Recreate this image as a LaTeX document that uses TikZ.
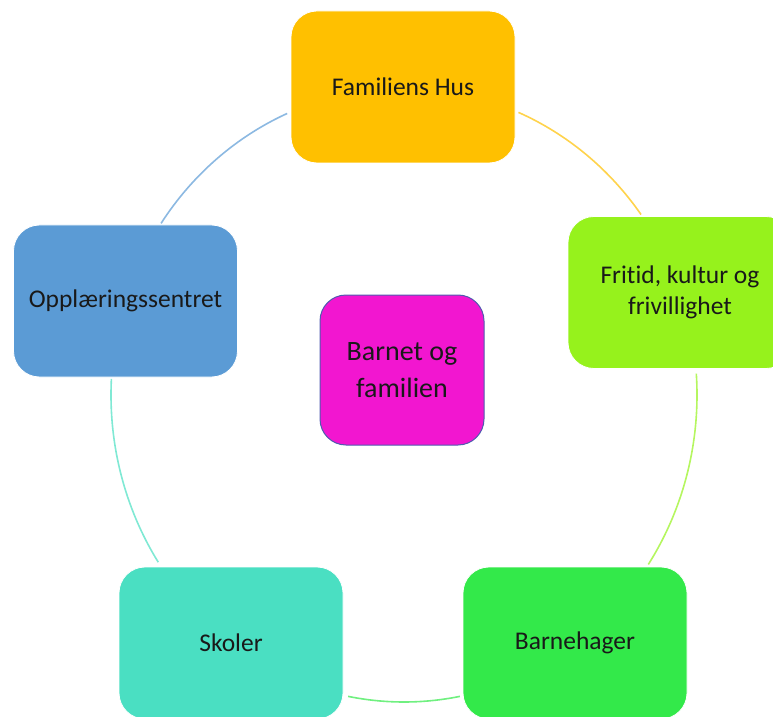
\documentclass[tikz,border=0pt]{standalone}
\usepackage{fontspec}
\setmainfont{Carlito}[Ligatures=NoCommon]
\definecolor{famC}{RGB}{255,192,0}
\definecolor{friC}{RGB}{150,242,28}
\definecolor{barhC}{RGB}{51,233,74}
\definecolor{skoC}{RGB}{74,223,194}
\definecolor{oppC}{RGB}{91,155,213}
\definecolor{barnC}{RGB}{242,22,208}
\definecolor{barnLine}{RGB}{80,90,175}
\begin{document}
\begin{tikzpicture}[x=1pt, y=1pt,
        box/.style={rectangle, rounded corners=26pt, draw=white, line width=0.8pt,
            minimum width=224pt, minimum height=152pt, align=center,
            text=black!90, font=\fontsize{25.5}{31}\selectfont},
        ring/.style={line width=1.6pt, draw opacity=0.7}]
        \clip (0, 0) rectangle (773, 716);
        \coordinate (mid) at (404, 321);

        % ring segments, each in the colour of the box it leaves
        \foreach \from/\to/\col in {67/36/famC, 4/-33.5/friC, -79/-101/barhC, -147/-183/skoC, 146/113.5/oppC} {
            \draw[ring, \col] ([shift={(\from:293 and 307)}]mid)
                arc[start angle=\from, end angle=\to, x radius=293, y radius=307];
        }

        \node[box, fill=famC] (fam) at (403, 629) {Familiens Hus};
        \node[box, fill=friC] (fri) at (680, 423.5) {Fritid, kultur og\\frivillighet};
        \node[box, fill=barhC] (barh) at (575, 73) {Barnehager};
        \node[box, fill=skoC] (sko) at (231, 73) {Skoler};
        \node[box, fill=oppC] (opp) at (125.5, 415) {Opplæringssentret};
        \node[box, fill=barnC, draw=barnLine, line width=1pt, minimum width=164pt,
            minimum height=150pt, font=\fontsize{28}{37}\selectfont] (barn) at (402, 346) {Barnet og\\familien};
    \end{tikzpicture}
\end{document}
